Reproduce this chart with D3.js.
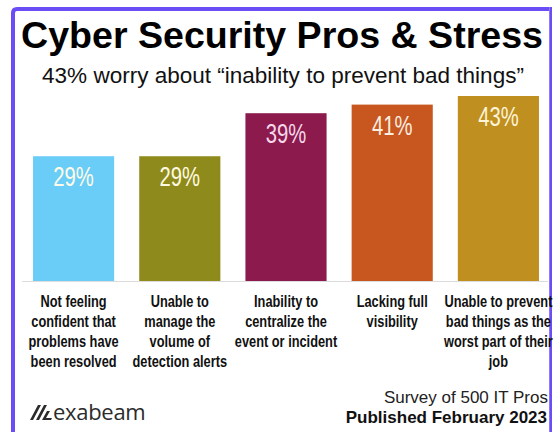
<!DOCTYPE html>
<html>
<head>
<meta charset="utf-8">
<script src="https://cdn.jsdelivr.net/npm/d3@7"></script>
<style>
  html, body { margin: 0; padding: 0; background: #ffffff; }
  svg { display: block; }
</style>
</head>
<body>
<svg id="chart" width="554" height="432"></svg>
<script>
// ---- data ----
const categories = [
  ["Not feeling", "confident that", "problems have", "been resolved"],
  ["Unable to", "manage the", "volume of", "detection alerts"],
  ["Inability to", "centralize the", "event or incident"],
  ["Lacking full", "visibility"],
  ["Unable to prevent", "bad things as the", "worst part of their", "job"]
];
const values = [29, 29, 39, 41, 43];
const valueLabels = ["29%", "29%", "39%", "41%", "43%"];
const barColors = ["#69cdf7", "#8f8a1c", "#8c1a4d", "#c8561f", "#bf8f1f"];
const labelColors = ["#fffbe8", "#fffbe0", "#f5d8ea", "#fbeee0", "#fff4d8"];
const titleText = "Cyber Security Pros & Stress";
const subtitleText = "43% worry about \u201cinability to prevent bad things\u201d";
const footLines = ["Survey of 500 IT Pros", "Published February 2023"];
const brandText = "exabeam";

// ---- layout ----
const W = 554, H = 432;
const svg = d3.select("#chart");
const sans = "'Liberation Sans', Arial, Helvetica, sans-serif";
const squeeze = 0.8; // emulate a narrow face

svg.append("rect").attr("width", W).attr("height", H).attr("fill", "#ffffff");

// frame
const frameColor = "#6a4df4";
svg.append("path")
  .attr("d", "M13,432 L13,13 Q13,9 17,9 L551,9 L551,432")
  .attr("fill", "none").attr("stroke", frameColor).attr("stroke-width", 4);
svg.append("rect").attr("x", 549.5).attr("y", 7).attr("width", 4.5).attr("height", H).attr("fill", "#ffffff");
svg.append("rect").attr("x", 549.5).attr("y", 7).attr("width", 2.5).attr("height", H).attr("fill", frameColor);

function fitText(sel, width) {
  const node = sel.node();
  const fs = parseFloat(sel.attr("font-size"));
  const w = node.getComputedTextLength();
  if (w > 0) sel.attr("font-size", (fs * width / w).toFixed(2));
}

// title & subtitle
const title = svg.append("text")
  .attr("x", 282).attr("y", 48)
  .attr("text-anchor", "middle")
  .attr("font-family", sans).attr("font-weight", "bold")
  .attr("font-size", 37).attr("fill", "#000")
  .text(titleText);
fitText(title, 522);

const subtitle = svg.append("text")
  .attr("x", 283).attr("y", 83)
  .attr("text-anchor", "middle")
  .attr("font-family", sans)
  .attr("font-size", 19).attr("fill", "#111")
  .text(subtitleText);
fitText(subtitle, 482);

// scales
const x = d3.scaleBand()
  .domain(d3.range(values.length))
  .range([20.5, 551.5])
  .paddingInner(0.236)
  .paddingOuter(0.118);
const y = d3.scaleLinear().domain([0, 43]).range([281, 96]);

// baseline
svg.append("line")
  .attr("x1", 22).attr("x2", 548)
  .attr("y1", y(0) + 0.5).attr("y2", y(0) + 0.5)
  .attr("stroke", "#dcdcdc").attr("stroke-width", 1);

// bars
svg.append("g").selectAll("rect")
  .data(values)
  .join("rect")
  .attr("x", (d, i) => x(i))
  .attr("y", d => y(d))
  .attr("width", x.bandwidth())
  .attr("height", d => y(0) - y(d))
  .attr("fill", (d, i) => barColors[i]);

// value labels
svg.append("g").selectAll("text")
  .data(values)
  .join("text")
  .attr("transform", (d, i) => `translate(${x(i) + x.bandwidth() / 2},${y(d) + 30}) scale(0.75,1)`)
  .attr("text-anchor", "middle")
  .attr("font-family", sans)
  .attr("font-size", 27)
  .attr("fill", (d, i) => labelColors[i])
  .text((d, i) => valueLabels[i]);

// category labels
const catG = svg.append("g");
categories.forEach((lines, i) => {
  const t = catG.append("text")
    .attr("transform", `translate(${x(i) + x.bandwidth() / 2},0) scale(${squeeze},1)`)
    .attr("text-anchor", "middle")
    .attr("font-family", sans)
    .attr("font-weight", "bold")
    .attr("font-size", 16)
    .attr("fill", "#111");
  lines.forEach((ln, j) => {
    t.append("tspan")
      .attr("x", 0)
      .attr("y", 307 + j * 20)
      .text(ln);
  });
});

// footer
svg.append("text")
  .attr("x", 548).attr("y", 403)
  .attr("text-anchor", "end")
  .attr("font-family", sans).attr("font-size", 17).attr("fill", "#222")
  .text(footLines[0]);
svg.append("text")
  .attr("x", 547).attr("y", 423)
  .attr("text-anchor", "end")
  .attr("font-family", sans).attr("font-weight", "bold").attr("font-size", 17).attr("fill", "#111")
  .text(footLines[1]);

// brand logo
const logo = svg.append("g").attr("fill", "#2b2b2b");
logo.append("path").attr("d", "M30,420 L38,405 L41,405 L33,420 Z");
logo.append("path").attr("d", "M36,420 L44,405 L47,405 L39,420 Z");
logo.append("path").attr("d", "M42,420 L47,411 L50,411 L46,418 L52,418 L51,420 Z");
svg.append("text")
  .attr("x", 53).attr("y", 420)
  .attr("font-family", "'Open Sans', 'Noto Sans', sans-serif")
  .attr("font-size", 22).attr("fill", "#2b2b2b")
  .attr("letter-spacing", -0.3)
  .text(brandText);
</script>
</body>
</html>
